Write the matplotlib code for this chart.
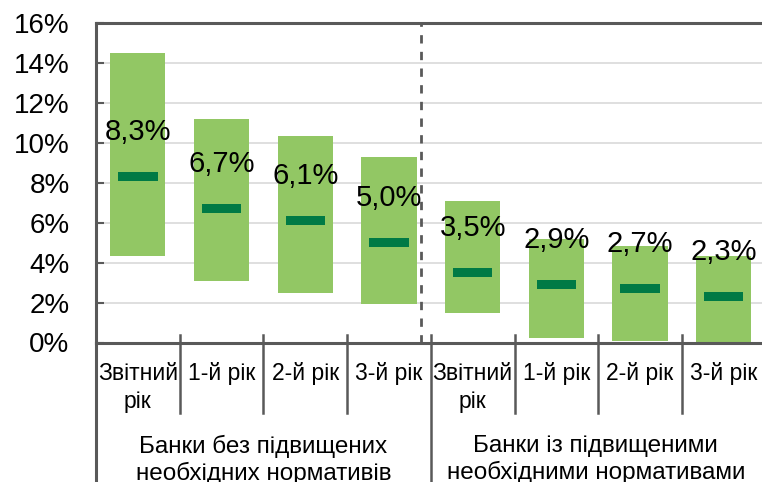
import matplotlib
matplotlib.use("Agg")
import matplotlib.pyplot as plt

plt.rcParams['font.family'] = ['Liberation Sans', 'DejaVu Sans']

categories = ["Звітний\nрік", "1-й рік", "2-й рік", "3-й рік",
              "Звітний\nрік", "1-й рік", "2-й рік", "3-й рік"]
groups = ["Банки без підвищених\nнеобхідних нормативів",
          "Банки із підвищеними\nнеобхідними нормативами"]
low = [4.35, 3.1, 2.5, 1.95, 1.47, 0.24, 0.1, 0.05]
high = [14.5, 11.22, 10.34, 9.3, 7.1, 5.21, 4.86, 4.34]
median = [8.3, 6.7, 6.1, 5.0, 3.5, 2.9, 2.7, 2.3]

bar_col = "#92C764"
med_col = "#007A45"
axis_col = "#595959"

fig = plt.figure(figsize=(7.62, 4.82), dpi=100)
ax = fig.add_axes([96 / 762, 1 - 342.5 / 482, 666 / 762, 319.2 / 482])

x = [i + 0.5 for i in range(len(categories))]
ax.bar(x, [h - l for h, l in zip(high, low)], bottom=low, width=0.66,
       color=bar_col, zorder=2)
ax.bar(x, [0.45] * len(x), bottom=[m - 0.225 for m in median], width=0.47,
       color=med_col, zorder=3)
for xi, m in zip(x, median):
    ax.text(xi, m + 2.25, f"{m:.1f}".replace(".", ",") + "%", ha="center",
            va="center", fontsize=21, zorder=4)

ax.set_xlim(0, 666 / 83.7)
ax.set_ylim(0, 16)
ax.set_yticks(range(0, 17, 2))
ax.set_yticklabels([f"{t}%" for t in range(0, 17, 2)], fontsize=20)
ax.tick_params(axis="y", direction="in", length=6, width=1.5,
               color=axis_col, pad=19)
ax.set_xticks([])
ax.grid(axis="y", color="#D9D9D9", linewidth=1.2, zorder=0)
ax.set_axisbelow(True)

for s in ["top", "left", "bottom"]:
    ax.spines[s].set_color(axis_col)
    ax.spines[s].set_linewidth(2.2)
ax.spines["right"].set_visible(False)

# separator between the two groups
ax.axvline(3.88, color=axis_col, linewidth=2, linestyle=(0, (3, 3)), zorder=5)

# category boundary ticks and label area
trans = ax.get_xaxis_transform()
for b in range(1, 8):
    bottom = -0.44 if b == 4 else -0.221
    ax.plot([b, b], [0.0235, bottom], transform=trans, color=axis_col,
            linewidth=1.8, clip_on=False)
ax.plot([0, 0], [0, -0.44], transform=trans, color=axis_col,
        linewidth=2.2, clip_on=False)

for xi, c in zip(x, categories):
    ax.text(xi, -0.062, c, transform=trans, ha="center", va="top",
            fontsize=16.5, linespacing=1.25)

ax.text(2.0, -0.29, groups[0], transform=trans, ha="center", va="top",
        fontsize=17.5, linespacing=1.2)
ax.text(5.97, -0.29, groups[1], transform=trans, ha="center", va="top",
        fontsize=17.5, linespacing=1.2)

fig.savefig("out.png", dpi=100)
